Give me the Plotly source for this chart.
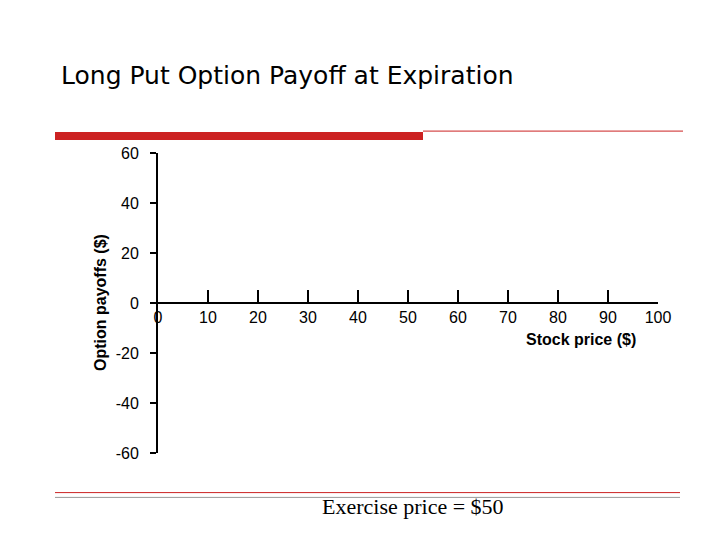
"""Long put option payoff at expiration: empty axes slide."""

import plotly.graph_objects as go

X_TICKS = [0, 10, 20, 30, 40, 50, 60, 70, 80, 90, 100]
Y_TICKS = [-60, -40, -20, 0, 20, 40, 60]
Y_LABELS = ["-60", "-40", "-20", "0", "20", "40", "60"]
TITLE = "Long Put Option Payoff at Expiration"
X_TITLE = "Stock price ($)"
Y_TITLE = "Option payoffs ($)"
NOTE = "Exercise price = $50"

SANS = "Liberation Sans, Arial, sans-serif"
SERIF = "Liberation Serif, Times New Roman, serif"
RED = "#CC2222"

fig = go.Figure()
fig.add_scatter(x=[None], y=[None], showlegend=False)

fig.update_layout(
    width=720, height=540,
    paper_bgcolor="white", plot_bgcolor="white",
    margin=dict(l=150, r=70, t=145, b=95),
    font=dict(family=SANS, size=16, color="black"),
    showlegend=False,
    xaxis=dict(
        range=[0, 100], tickvals=X_TICKS, showgrid=False, zeroline=False,
        showline=True, linecolor="black", linewidth=2,
        anchor="free", position=0.5,
        ticks="inside", ticklen=12, tickwidth=2, tickcolor="black",
        tickfont=dict(size=16),
    ),
    yaxis=dict(
        range=[-60, 60], tickvals=Y_TICKS, ticktext=Y_LABELS,
        showgrid=False, zeroline=False,
        showline=True, linecolor="black", linewidth=2,
        ticks="outside", ticklen=6, tickwidth=2, tickcolor="black",
        ticklabelstandoff=8, tickfont=dict(size=16),
    ),
    shapes=[
        dict(type="rect", xref="paper", yref="paper", x0=-0.206, x1=0.53,
             y0=1.043, y1=1.07, fillcolor=RED, line=dict(width=0)),
        dict(type="line", xref="paper", yref="paper", x0=0.53, x1=1.05,
             y0=1.073, y1=1.073, line=dict(color=RED, width=1)),
        dict(type="line", xref="paper", yref="paper", x0=-0.206, x1=1.044,
             y0=-0.132, y1=-0.132, line=dict(color=RED, width=1)),
        dict(type="line", xref="paper", yref="paper", x0=-0.206, x1=1.044,
             y0=-0.148, y1=-0.148, line=dict(color="#999999", width=1)),
    ],
    annotations=[
        dict(text=TITLE, xref="paper", yref="paper", x=-0.198, y=1.26,
             xanchor="left", yanchor="middle", showarrow=False,
             font=dict(family="DejaVu Sans", size=25)),
        dict(text=f"<b>{X_TITLE}</b>", xref="paper", yref="paper", x=0.845, y=0.38,
             xanchor="center", yanchor="middle", showarrow=False,
             font=dict(size=16)),
        dict(text=f"<b>{Y_TITLE}</b>", xref="paper", yref="paper", x=-0.116, y=0.5,
             textangle=-90, xanchor="center", yanchor="middle", showarrow=False,
             font=dict(size=16)),
        dict(text=NOTE, xref="paper", yref="paper", x=0.51, y=-0.177,
             xanchor="center", yanchor="middle", showarrow=False,
             font=dict(family=SERIF, size=22)),
    ],
)

fig.write_html("out.html")
